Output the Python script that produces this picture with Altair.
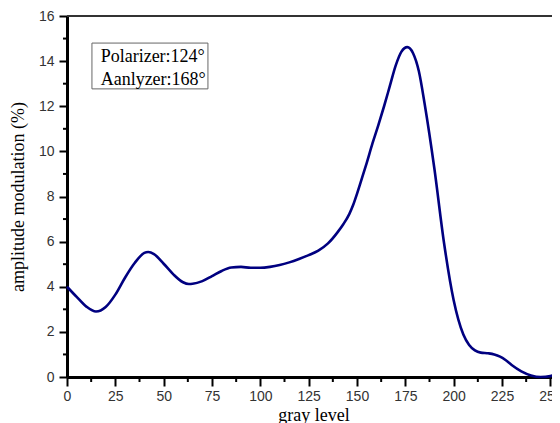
import altair as alt
import pandas as pd

gray_level = [0, 5, 10, 15, 20, 25, 30, 35, 40, 42, 45, 50, 55, 60, 63, 65, 70, 75, 80, 85,
              90, 95, 100, 105, 110, 115, 120, 125, 130, 135, 140, 143, 146, 148, 150, 152,
              155, 158, 161, 164, 167, 170, 173, 176, 179, 182, 185, 190, 195, 200, 205,
              208, 211, 214, 218, 221, 224, 227, 230, 235, 240, 245, 250, 255]
amplitude = [4.00, 3.55, 3.12, 2.90, 3.10, 3.65, 4.40, 5.05, 5.50, 5.54, 5.45, 5.02, 4.55,
             4.20, 4.12, 4.13, 4.25, 4.47, 4.70, 4.85, 4.88, 4.84, 4.84, 4.88, 4.96, 5.08,
             5.23, 5.40, 5.60, 5.92, 6.42, 6.78, 7.22, 7.62, 8.12, 8.66, 9.48, 10.35,
             11.15, 12.00, 12.90, 13.80, 14.42, 14.62, 14.35, 13.55, 12.10, 9.25, 5.95,
             3.40, 1.88, 1.42, 1.18, 1.08, 1.05, 1.00, 0.90, 0.74, 0.53, 0.25, 0.07, 0.00,
             0.04, 0.22]

x_major = [0, 25, 50, 75, 100, 125, 150, 175, 200, 225, 250]
x_minor = [12.5, 37.5, 62.5, 87.5, 112.5, 137.5, 162.5, 187.5, 212.5, 237.5]
y_major = [0, 2, 4, 6, 8, 10, 12, 14, 16]
y_minor = [1, 3, 5, 7, 9, 11, 13, 15]

note_lines = ["Polarizer:124°", "Aanlyzer:168°"]
note_x = [17.4, 17.4]
note_y = [13.98, 12.93]
box_x = [12.9]
box_x2 = [72.9]
box_y = [14.80]
box_y2 = [12.77]

W, H = 493, 361
SERIF = "Liberation Serif"
SANS = "Liberation Sans"

df = pd.DataFrame({"gray": gray_level, "amp": amplitude})
xs = alt.Scale(domain=[0, 255], nice=False, zero=False)
ys = alt.Scale(domain=[0, 16], nice=False)

line = alt.Chart(df).mark_line(color="#000080", strokeWidth=2.6, interpolate="monotone").encode(
    x=alt.X("gray:Q", scale=xs, axis=alt.Axis(
        values=x_major, title="gray level", tickSize=9, tickWidth=2, tickColor="black",
        domainWidth=3, domainColor="black", labelFont=SANS, labelFontSize=14,
        labelColor="#333", labelPadding=3, titleFont=SERIF, titleFontSize=18,
        titleFontWeight="normal", titleColor="black", titlePadding=3, grid=False,
        labelFlush=False)),
    y=alt.Y("amp:Q", scale=ys, axis=alt.Axis(
        values=y_major, title="amplitude modulation (%)", tickSize=8, tickWidth=2,
        tickColor="black", domainWidth=3, domainColor="black", labelFont=SANS,
        labelFontSize=14, labelColor="#333", labelPadding=5, titleFont=SERIF,
        titleFontSize=18, titleFontWeight="normal", titleColor="black", titlePadding=11,
        grid=False, labelFlush=False)),
)

xminor = alt.Chart(pd.DataFrame({"v": x_minor})).mark_rule(color="black", strokeWidth=2).encode(
    x=alt.X("v:Q", scale=xs), y=alt.value(H), y2=alt.value(H + 5))
yminor = alt.Chart(pd.DataFrame({"v": y_minor})).mark_rule(color="black", strokeWidth=2).encode(
    y=alt.Y("v:Q", scale=ys), x=alt.value(0), x2=alt.value(-4))

top = alt.Chart(pd.DataFrame({"a": [0]})).mark_rule(color="#333", strokeWidth=2).encode(
    x=alt.value(0), x2=alt.value(W + 10), y=alt.value(0))

box = alt.Chart(pd.DataFrame({"x": box_x, "x2": box_x2, "y": box_y, "y2": box_y2})).mark_rect(
    fill="white", stroke="#666", strokeWidth=1).encode(
    x=alt.X("x:Q", scale=xs), x2="x2:Q", y=alt.Y("y:Q", scale=ys), y2="y2:Q")

notes = alt.Chart(pd.DataFrame({"t": note_lines, "x": note_x, "y": note_y})).mark_text(
    font=SERIF, fontSize=18, color="black", align="left", baseline="alphabetic").encode(
    x=alt.X("x:Q", scale=xs), y=alt.Y("y:Q", scale=ys), text="t:N")

chart = alt.layer(top, box, notes, xminor, yminor, line).properties(
    width=W, height=H,
    autosize=alt.AutoSizeParams(type="none"),
    padding={"left": 59, "top": 8, "right": -8, "bottom": 46},
).configure_view(stroke=None)

chart.save("out.html", embed_options={"renderer": "svg", "actions": False})
